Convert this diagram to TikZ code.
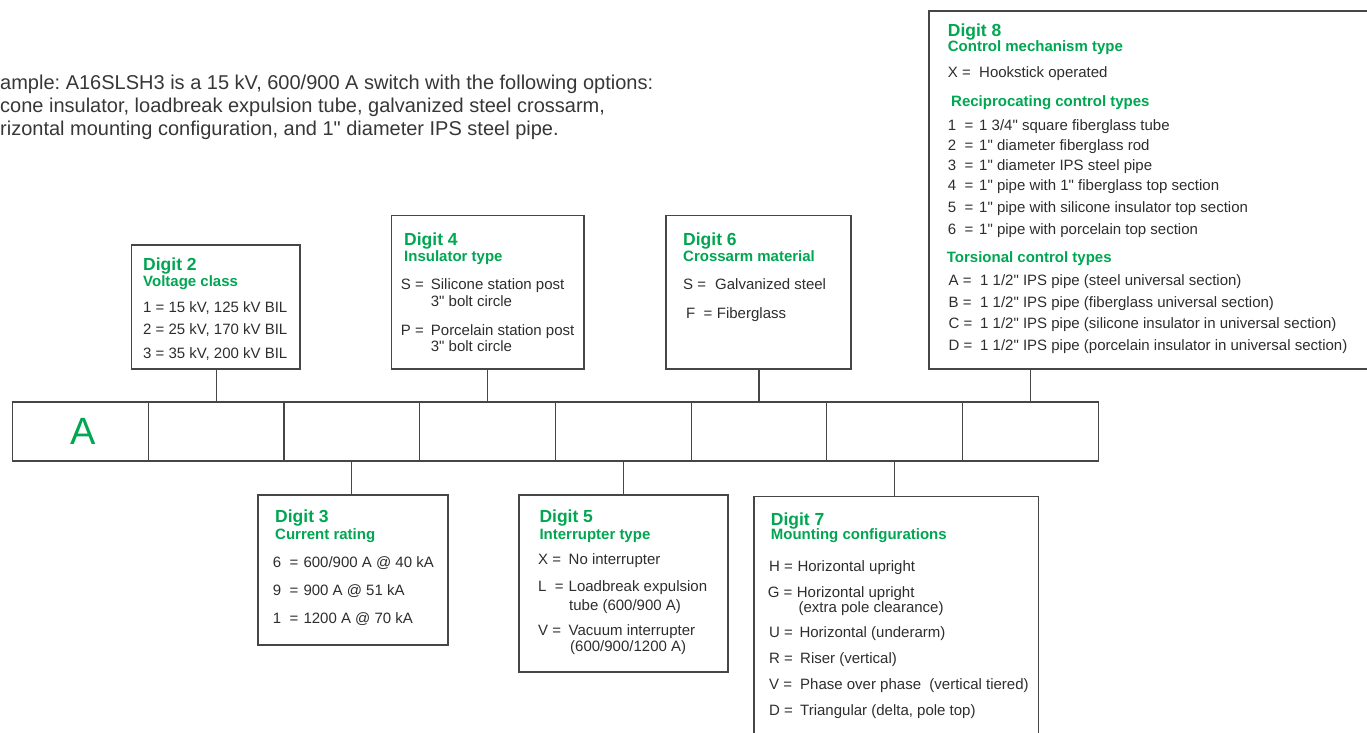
\documentclass[tikz,border=0pt]{standalone}
\usepackage{fontspec}
\setmainfont{Liberation Sans}[Ligatures=TeXOff]
\definecolor{grn}{RGB}{0,166,81}
\definecolor{txtgray}{RGB}{45,45,45}
\definecolor{boxgray}{RGB}{70,70,70}
\definecolor{exgray}{RGB}{55,55,55}
\newcommand\kvrow[6]{%
  \node[txt] (#1k) at (#2,#3) {#4};
  \node[txt] (#1v) at (#5,#3) {#6};}
\frenchspacing
\begin{document}
\begin{tikzpicture}[x=1pt,y=-1pt,
  box/.style={draw=boxgray, line width=1.1pt, inner sep=0pt, outer sep=0pt, anchor=north west},
  cell/.style={draw=boxgray, line width=1.1pt, inner sep=0pt, outer sep=0pt, anchor=north west,
    minimum width=135.7pt, minimum height=59pt},
  link/.style={draw=boxgray, line width=1.1pt},
  txt/.style={anchor=base west, inner sep=0pt, text=txtgray, font=\fontsize{15}{18}\selectfont},
  hd/.style={anchor=base west, inner sep=0pt, text=grn, font=\bfseries\fontsize{17.5}{20}\selectfont},
  sub/.style={anchor=base west, inner sep=0pt, text=grn, font=\bfseries\fontsize{15}{18}\selectfont},
  ex/.style={anchor=base west, inner sep=0pt, text=exgray, font=\fontsize{20}{23}\selectfont}]
\useasboundingbox (0,0) rectangle (1367,732);
\clip (0,0) rectangle (1367,732);

% example text
\node[ex] (ex1) at (0,89) {ample: A16SLSH3 is a 15 kV, 600/900 A switch with the following options:};
\node[ex] (ex2) at (0,112) {cone insulator, loadbreak expulsion tube, galvanized steel crossarm,};
\node[ex] (ex3) at (0,135) {rizontal mounting configuration, and 1" diameter IPS steel pipe.};

% main row of cells
\foreach \i in {1,...,8}{
  \node[cell] (c\i) at ({12.6+(\i-1)*135.7},402) {};
}
\node[text=grn, inner sep=0pt, font=\fontsize{38}{40}\selectfont] (alabel) at ([xshift=3pt]c1.center) {A};

% boxes
\node[box, minimum width=168.3pt, minimum height=124pt] (d2) at (131.7,245) {};
\node[box, minimum width=192.3pt, minimum height=153.3pt] (d4) at (391.7,215.7) {};
\node[box, minimum width=185pt, minimum height=153.3pt] (d6) at (666,215.7) {};
\node[box, minimum width=470pt, minimum height=358pt] (d8) at (929,11) {};
\node[box, minimum width=190pt, minimum height=150pt] (d3) at (258,495) {};
\node[box, minimum width=209pt, minimum height=177pt] (d5) at (519,495) {};
\node[box, minimum width=284.7pt, minimum height=270pt] (d7) at (754,496.7) {};

% connectors
\draw[link] (c2.north) -- (c2.north |- d2.south);
\draw[link] (c4.north) -- (c4.north |- d4.south);
\draw[link] (c6.north) -- (c6.north |- d6.south);
\draw[link] (c8.north) -- (c8.north |- d8.south);
\draw[link] (c3.south) -- (c3.south |- d3.north);
\draw[link] (c5.south) -- (c5.south |- d5.north);
\draw[link] (c7.south) -- (c7.south |- d7.north);

% Digit 2
\node[hd] (d2h) at (143,270) {Digit 2};
\node[sub] (d2s) at (143,286) {Voltage class};
\node[txt] (d2a) at (143,312) {1 = 15 kV, 125 kV BIL};
\node[txt] (d2b) at (143,334) {2 = 25 kV, 170 kV BIL};
\node[txt] (d2c) at (143,358) {3 = 35 kV, 200 kV BIL};

% Digit 4
\node[hd] (d4h) at (404,245) {Digit 4};
\node[sub] (d4s) at (404,261.7) {Insulator type};
\kvrow{d4a}{400.7}{289}{S =}{430.7}{Silicone station post}
\node[txt] (d4a2) at (430.7,306) {3" bolt circle};
\kvrow{d4b}{400.7}{335}{P =}{430.7}{Porcelain station post}
\node[txt] (d4b2) at (430.7,351.7) {3" bolt circle};

% Digit 6
\node[hd] (d6h) at (683,245) {Digit 6};
\node[sub] (d6s) at (683,261.7) {Crossarm material};
\kvrow{d6a}{683}{289}{S =}{715}{Galvanized steel}
\kvrow{d6b}{686}{318}{F\ \ =}{716.7}{Fiberglass}

% Digit 8
\node[hd] (d8h) at (947.7,36) {Digit 8};
\node[sub] (d8s) at (947.7,51.7) {Control mechanism type};
\kvrow{d8x}{947.7}{77.7}{X =}{979}{Hookstick operated}
\node[sub] (d8r) at (951,106) {Reciprocating control types};
\kvrow{d8a}{947.7}{130.7}{1\ \ =}{979}{1 3/4" square fiberglass tube}
\kvrow{d8b}{947.7}{150}{2\ \ =}{979}{1" diameter fiberglass rod}
\kvrow{d8c}{947.7}{170}{3\ \ =}{979}{1" diameter IPS steel pipe}
\kvrow{d8d}{947.7}{190.7}{4\ \ =}{979}{1" pipe with 1" fiberglass top section}
\kvrow{d8e}{947.7}{212.7}{5\ \ =}{979}{1" pipe with silicone insulator top section}
\kvrow{d8f}{947.7}{234}{6\ \ =}{979}{1" pipe with porcelain top section}
\node[sub] (d8t) at (946.7,262.3) {Torsional control types};
\kvrow{d8g}{948.5}{285}{A =}{980}{1 1/2" IPS pipe (steel universal section)}
\kvrow{d8h}{948.5}{307}{B =}{980}{1 1/2" IPS pipe (fiberglass universal section)}
\kvrow{d8i}{948.5}{328}{C =}{980}{1 1/2" IPS pipe (silicone insulator in universal section)}
\kvrow{d8j}{948.5}{350.7}{D =}{980}{1 1/2" IPS pipe (porcelain insulator in universal section)}

% Digit 3
\node[hd] (d3h) at (275,522.7) {Digit 3};
\node[sub] (d3s) at (275,539) {Current rating};
\kvrow{d3a}{272.7}{567}{6\ \ =}{303.3}{600/900 A @ 40 kA}
\kvrow{d3b}{272.7}{595.3}{9\ \ =}{303.3}{900 A @ 51 kA}
\kvrow{d3c}{272.7}{623.3}{1\ \ =}{303.3}{1200 A @ 70 kA}

% Digit 5
\node[hd] (d5h) at (539.3,522.7) {Digit 5};
\node[sub] (d5s) at (539.3,539) {Interrupter type};
\kvrow{d5a}{538}{564}{X =}{568.5}{No interrupter}
\kvrow{d5b}{538}{591.7}{L\ \ =}{568.5}{Loadbreak expulsion}
\node[txt] (d5b2) at (569,610) {tube (600/900 A)};
\kvrow{d5c}{538}{635}{V =}{568.5}{Vacuum interrupter}
\node[txt] (d5c2) at (570,651.7) {(600/900/1200 A)};

% Digit 7
\node[hd] (d7h) at (770.7,525) {Digit 7};
\node[sub] (d7s) at (770.7,539.5) {Mounting configurations};
\kvrow{d7a}{769}{571.7}{H =}{797.3}{Horizontal upright}
\kvrow{d7b}{767.7}{597.3}{G =}{796.7}{Horizontal upright}
\node[txt] (d7b2) at (798.3,612.7) {(extra pole clearance)};
\kvrow{d7c}{769}{637.3}{U =}{799.3}{Horizontal (underarm)}
\kvrow{d7d}{769}{663.3}{R =}{800}{Riser (vertical)}
\kvrow{d7e}{769}{689.3}{V =}{800}{Phase over phase\ \ (vertical tiered)}
\kvrow{d7f}{769}{715}{D =}{800}{Triangular (delta, pole top)}
\end{tikzpicture}
\end{document}
